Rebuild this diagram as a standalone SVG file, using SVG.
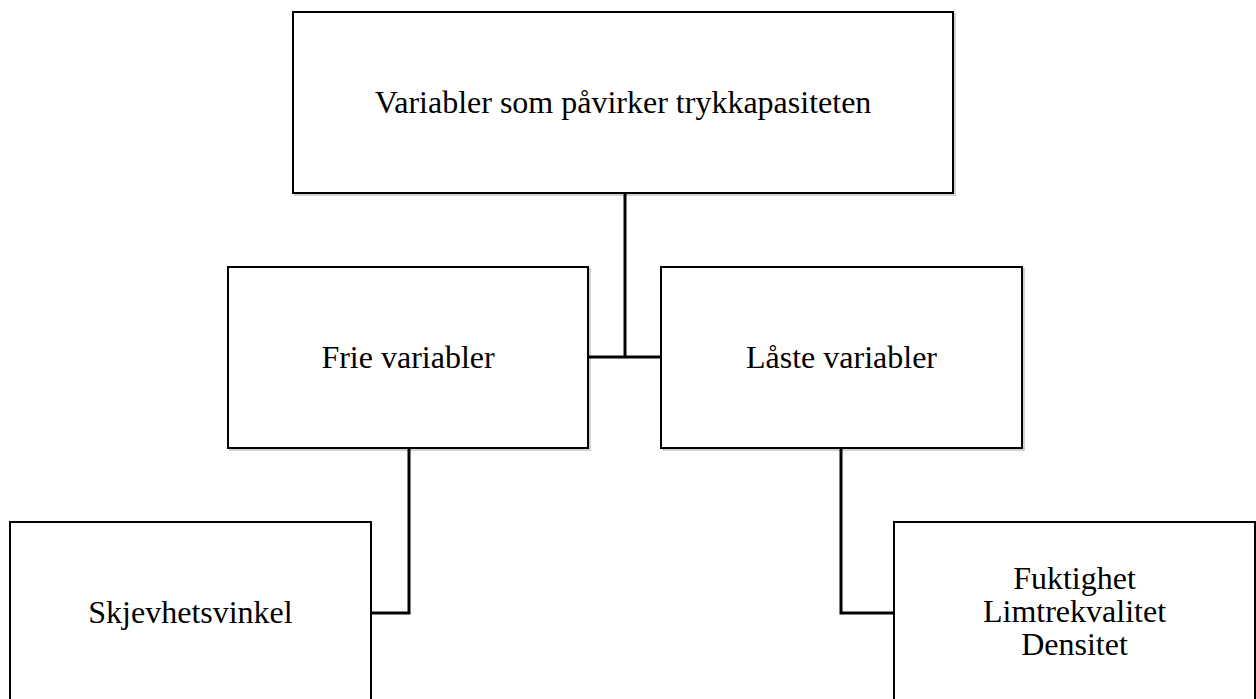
<svg xmlns="http://www.w3.org/2000/svg" width="1256" height="699" viewBox="0 0 1256 699">
  <style>
    .box { fill: #ffffff; stroke: #000000; stroke-width: 2; }
    .shadow { fill: none; stroke: #000000; stroke-opacity: 0.18; stroke-width: 2; }
    .conn { fill: none; stroke: #000000; stroke-width: 3; }
    .lbl { font-family: "Liberation Serif", "Times New Roman", serif; font-size: 32px; fill: #000000; text-anchor: middle; }
  </style>
  <rect x="0" y="0" width="1256" height="699" fill="#ffffff"/>
  <g id="connectors">
    <path class="conn" d="M625,193 V357"/>
    <path class="conn" d="M588,357 H661"/>
    <path class="conn" d="M409,448 V613 H371"/>
    <path class="conn" d="M841,448 V613 H894"/>
  </g>
  <g id="node-top">
    <rect class="shadow" x="295" y="14" width="660" height="181"/>
    <rect class="box" x="293" y="12" width="660" height="181"/>
    <text class="lbl" x="623" y="113">Variabler som påvirker trykkapasiteten</text>
  </g>
  <g id="node-frie">
    <rect class="shadow" x="230" y="269" width="360" height="181"/>
    <rect class="box" x="228" y="267" width="360" height="181"/>
    <text class="lbl" x="408" y="368">Frie variabler</text>
  </g>
  <g id="node-laste">
    <rect class="shadow" x="663" y="269" width="361" height="181"/>
    <rect class="box" x="661" y="267" width="361" height="181"/>
    <text class="lbl" x="841.5" y="368">Låste variabler</text>
  </g>
  <g id="node-skjevhet">
    <rect class="box" x="10" y="522" width="361" height="200"/>
    <text class="lbl" x="190.5" y="623">Skjevhetsvinkel</text>
  </g>
  <g id="node-last">
    <rect class="box" x="894" y="522" width="361" height="200"/>
    <text class="lbl" x="1074.5" y="589">Fuktighet</text>
    <text class="lbl" x="1074.5" y="622">Limtrekvalitet</text>
    <text class="lbl" x="1074.5" y="655">Densitet</text>
  </g>
</svg>
